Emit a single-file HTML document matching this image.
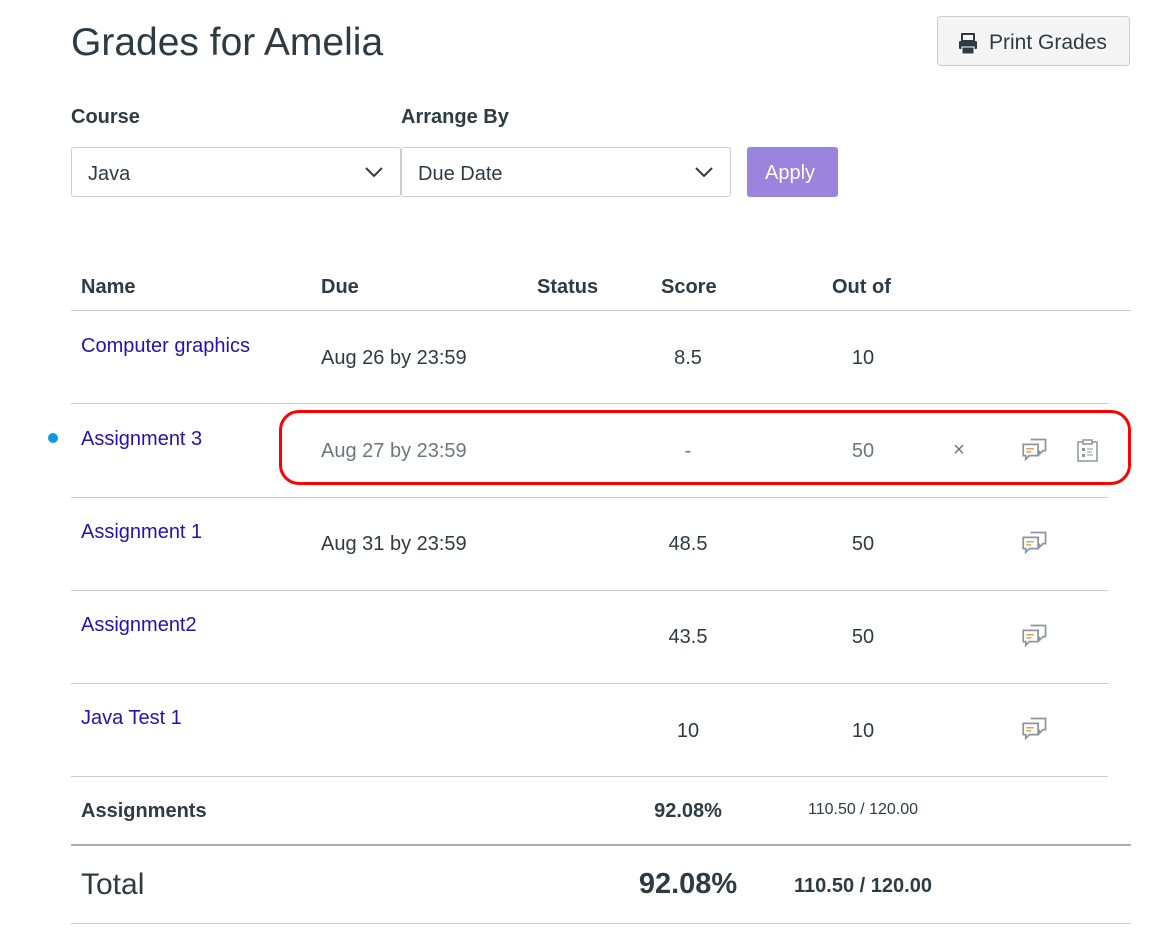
<!DOCTYPE html>
<html><head><meta charset="utf-8"><style>
body{margin:0;width:1163px;height:940px;background:#fff;font-family:"Liberation Sans",sans-serif;color:#2d3b45;position:relative;overflow:hidden}
.a{position:absolute;white-space:nowrap;line-height:1}
.c{transform:translateX(-50%)}
.l{color:#2a0fb0;font-size:20px}
.t{font-size:20px}
.hl{position:absolute;left:71px;height:1px;background:#c7cdd1}
.sel{position:absolute;top:147px;width:330px;height:50px;border:1px solid #c7cdd1;border-radius:3px;box-sizing:border-box}
.sel span{position:absolute;left:16px;top:15px;font-size:20px}
.sel svg{position:absolute;right:16px;top:17px}
</style></head><body>
<div class="a" style="left:71px;top:23px;font-size:39px">Grades for Amelia</div>
<div style="position:absolute;left:937px;top:16px;width:193px;height:50px;background:#f5f5f5;border:1px solid #c7cdd1;border-radius:4px;box-sizing:border-box"></div>
<svg style="position:absolute;left:958px;top:33px" width="20" height="22" viewBox="0 0 20 22"><rect x="4" y="1" width="12" height="7" fill="none" stroke="#2d3b45" stroke-width="2"/><rect x="1" y="8" width="18" height="8" rx="1" fill="#2d3b45"/><rect x="4" y="14" width="12" height="7" fill="#2d3b45" stroke="#fff" stroke-width="1"/></svg>
<div class="a" style="left:989px;top:32px;font-size:21px">Print Grades</div>

<div class="a" style="left:71px;top:107px;font-size:20px;font-weight:bold">Course</div>
<div class="a" style="left:401px;top:107px;font-size:20px;font-weight:bold">Arrange By</div>
<div class="sel" style="left:71px"><span>Java</span><svg width="20" height="14"><path d="M2 3 L10 11 L18 3" fill="none" stroke="#2d3b45" stroke-width="2"/></svg></div>
<div class="sel" style="left:401px"><span>Due Date</span><svg width="20" height="14"><path d="M2 3 L10 11 L18 3" fill="none" stroke="#2d3b45" stroke-width="2"/></svg></div>
<div style="position:absolute;left:747px;top:147px;width:91px;height:50px;background:#9a84de;border-radius:3px"></div>
<div class="a" style="left:765px;top:163px;font-size:20px;color:#fff">Apply</div>

<div class="a t" style="left:81px;top:277px;font-weight:bold">Name</div>
<div class="a t" style="left:321px;top:277px;font-weight:bold">Due</div>
<div class="a t" style="left:537px;top:277px;font-weight:bold">Status</div>
<div class="a t" style="left:661px;top:277px;font-weight:bold">Score</div>
<div class="a t" style="left:832px;top:277px;font-weight:bold">Out of</div>
<div class="hl" style="top:310px;width:1060px"></div>

<div class="a l" style="left:81px;top:336px">Computer graphics</div>
<div class="a t" style="left:321px;top:348px">Aug 26 by 23:59</div>
<div class="a t c" style="left:688px;top:348px">8.5</div>
<div class="a t c" style="left:863px;top:348px">10</div>
<div class="hl" style="top:403px;width:1037px"></div>

<div style="position:absolute;left:48px;top:433px;width:10px;height:10px;border-radius:50%;background:#0b9be3"></div>
<div class="a l" style="left:81px;top:429px">Assignment 3</div>
<div class="a t" style="left:321px;top:441px;color:#6b7780">Aug 27 by 23:59</div>
<div class="a t c" style="left:688px;top:441px;color:#6b7780">-</div>
<div class="a t c" style="left:863px;top:441px;color:#6b7780">50</div>
<div class="a c" style="left:959px;top:440px;font-size:20px;color:#6b7780">×</div>
<div class="hl" style="top:497px;width:1037px"></div>
<div style="position:absolute;left:279px;top:410px;width:852px;height:75px;border:3px solid #f00;border-radius:20px;box-sizing:border-box"></div>
<svg style="position:absolute;left:1077px;top:439px" width="21" height="23" viewBox="0 0 21 23"><rect x="1" y="3" width="19" height="19" fill="none" stroke="#8b969e" stroke-width="1.5"/><rect x="6" y="1" width="9" height="4" fill="#fff" stroke="#8b969e" stroke-width="1.5"/><rect x="5" y="9" width="3" height="3" fill="#8b969e"/><rect x="5" y="15" width="3" height="3" fill="#8b969e"/><path d="M10 10h6M10 13h5M10 16h6" stroke="#8b969e"/></svg>

<div class="a l" style="left:81px;top:522px">Assignment 1</div>
<div class="a t" style="left:321px;top:534px">Aug 31 by 23:59</div>
<div class="a t c" style="left:688px;top:534px">48.5</div>
<div class="a t c" style="left:863px;top:534px">50</div>
<div class="hl" style="top:590px;width:1037px"></div>

<div class="a l" style="left:81px;top:615px">Assignment2</div>
<div class="a t c" style="left:688px;top:627px">43.5</div>
<div class="a t c" style="left:863px;top:627px">50</div>
<div class="hl" style="top:683px;width:1037px"></div>

<div class="a l" style="left:81px;top:708px">Java Test 1</div>
<div class="a t c" style="left:688px;top:721px">10</div>
<div class="a t c" style="left:863px;top:721px">10</div>
<div class="hl" style="top:776px;width:1037px"></div>

<div class="a t" style="left:81px;top:801px;font-weight:bold">Assignments</div>
<div class="a t c" style="left:688px;top:801px;font-weight:bold">92.08%</div>
<div class="a c" style="left:863px;top:802px;font-size:16px">110.50 / 120.00</div>
<div class="hl" style="top:844px;width:1060px;height:2px;background:#a5afb5"></div>

<div class="a" style="left:81px;top:870px;font-size:30px">Total</div>
<div class="a c" style="left:688px;top:870px;font-size:29px;font-weight:bold">92.08%</div>
<div class="a c" style="left:863px;top:876px;font-size:20px;font-weight:bold">110.50 / 120.00</div>
<div class="hl" style="top:923px;width:1060px"></div>

<svg width="0" height="0" style="position:absolute"><defs><g id="cm"><path d="M7 1h12v9h-2l-3 3v-3" fill="#fff" stroke="#8b969e" stroke-width="1.4"/><path d="M1 5h12v9H6l-3 3v-3H1z" fill="#fff" stroke="#8b969e" stroke-width="1.4"/><path d="M3.5 8.5h6M3.5 11h4" stroke="#e0a050" stroke-width="1.2"/></g></defs></svg>
<svg style="position:absolute;left:1022px;top:438px" width="26" height="24" viewBox="0 0 21 19"><use href="#cm"/></svg>
<svg style="position:absolute;left:1022px;top:531px" width="26" height="24" viewBox="0 0 21 19"><use href="#cm"/></svg>
<svg style="position:absolute;left:1022px;top:624px" width="26" height="24" viewBox="0 0 21 19"><use href="#cm"/></svg>
<svg style="position:absolute;left:1022px;top:717px" width="26" height="24" viewBox="0 0 21 19"><use href="#cm"/></svg>
</body></html>
